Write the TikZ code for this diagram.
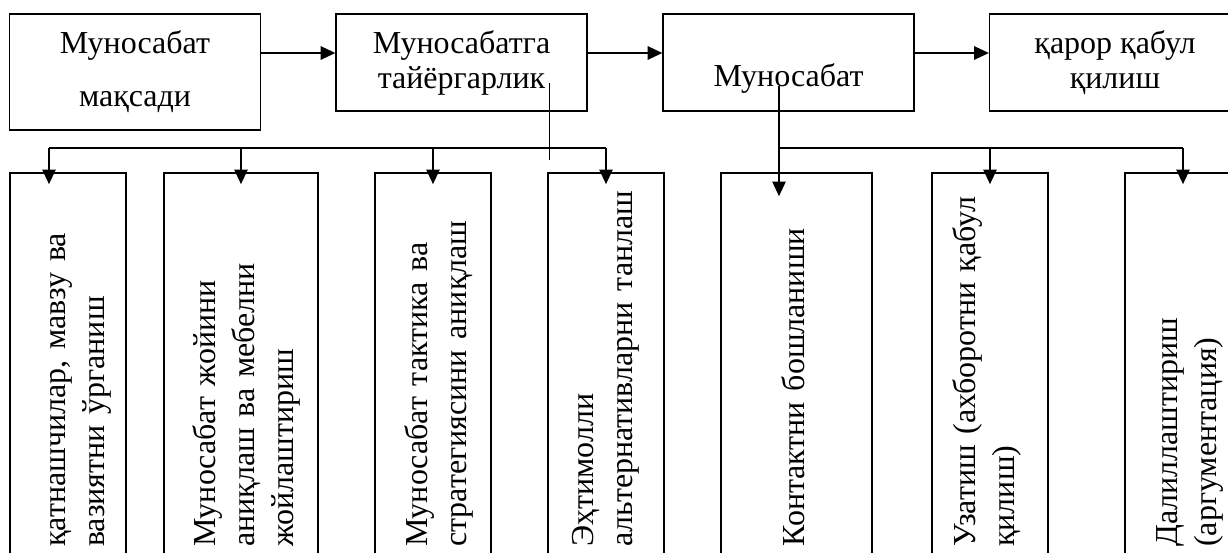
\documentclass[tikz,border=0pt]{standalone}
\usepackage{fontspec}
\setmainfont{Liberation Serif}
\usetikzlibrary{arrows.meta,calc}

\tikzset{
  topbox/.style={draw, line width=1.2pt, minimum width=188pt, minimum height=72.75pt, inner sep=0pt, align=center, font=\fontsize{24}{26.25}\selectfont},
  lowbox/.style={draw, line width=1.2pt, minimum width=87pt, minimum height=322.5pt, inner sep=0pt},
  vtext/.style={rotate=90, anchor=base west, inner sep=0pt, text width=290pt, align=left, font=\fontsize{24}{29.5}\selectfont},
  wire/.style={line width=1.3pt},
  arr/.style={line width=1.3pt, -{Triangle[length=11pt,width=10pt]}},
}

\begin{document}
\begin{tikzpicture}[x=0.75pt,y=0.75pt,yscale=-1,xscale=1]

            % Frame
            \useasboundingbox (0,0) rectangle (1228,553);
            \clip (0,0) rectangle (1228,553);

            % Top boxes
            \node[topbox, minimum height=87pt, font=\fontsize{24}{39.75}\selectfont] (goal) at (135,72) {Муносабат\\мақсади};
            \node[topbox] (prep) at (461.5,62.5) {Муносабатга\\тайёргарлик};
            \node[topbox, text height=35.25pt, text depth=0pt] (talk) at (788.5,62.5) {Муносабат};
            \node[topbox] (dec) at (1115,62.5) {қарор қабул\\қилиш};

            % Bottom boxes
            \node[lowbox] (sa) at (68,388) {};
            \node[lowbox, minimum width=115.5pt] (sb) at (241,388) {};
            \node[lowbox] (sc) at (433,388) {};
            \node[lowbox] (sd) at (606,388) {};
            \node[lowbox, minimum width=113.25pt] (se) at (796.5,388) {};
            \node[lowbox] (sf) at (990,388) {};
            \node[lowbox] (sg) at (1183,388) {};

            % Labels
            \node[vtext] (ta) at (65,547) {қатнашчилар, мавзу ва\\вазиятни ўрганиш};
            \node[vtext] (tb) at (215,547) {Муносабат жойини\\аниқлаш ва мебелни\\жойлаштириш};
            \node[vtext] (tc) at (427,547) {Муносабат тактика ва\\стратегиясини аниқлаш};
            \node[vtext] (td) at (593,547) {Эҳтимолли\\альтернативларни танлаш};
            \node[vtext] (te) at (804,547) {Контактни бошланиши};
            \node[vtext] (tf) at (975,547) {Узатиш (ахборотни қабул\\қилиш)};
            \node[vtext] (tg) at (1177,547) {Далиллаштириш\\(аргументация)};

            % Lines
            \coordinate (ay) at (0,53);
            \coordinate (b1) at (49,148);
            \coordinate (b2) at (779,148);
            \coordinate (p1) at (549,83);
            \coordinate (p2) at (549,160);
            \coordinate (m1) at (779,86);

            \draw[arr] (goal.east |- ay) -- (prep.west |- ay);
            \draw[arr] (prep.east |- ay) -- (talk.west |- ay);
            \draw[arr] (talk.east |- ay) -- (dec.west |- ay);

            \draw[line width=0.7pt] (p1) -- (p2);
            \draw[wire] (b1) -- (sd.north |- b1);
            \draw[arr] (b1) -- ($(sa.north -| b1)+(0,12)$);
            \foreach \n in {sb,sc,sd}
              \draw[arr] (\n.north |- b1) -- ($(\n.north)+(0,12)$);

            \draw[wire] (b2) -- (sg.north |- b2);
            \draw[arr] (m1) -- ($(se.north -| m1)+(0,24)$);
            \foreach \n in {sf,sg}
              \draw[arr] (\n.north |- b2) -- ($(\n.north)+(0,12)$);

\end{tikzpicture}
\end{document}
